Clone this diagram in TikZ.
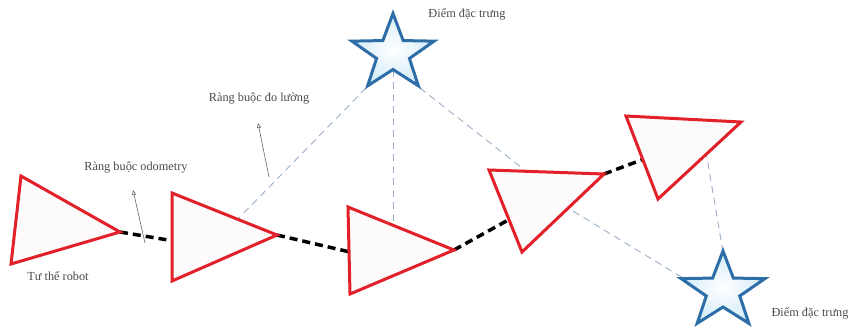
\documentclass[tikz,border=0pt]{standalone}
\usepackage{fontspec}
\setmainfont{Liberation Serif}
\usetikzlibrary{arrows.meta}
\definecolor{trired}{HTML}{E2202A}
\definecolor{trifill}{HTML}{FDFAFB}
\definecolor{starblue}{HTML}{2D6EA8}
\definecolor{starfill}{HTML}{D3ECF8}
\definecolor{measline}{HTML}{9DAEC6}
\definecolor{txt}{HTML}{4A4A4A}
\tikzset{
  pose/.style={draw=trired, fill=trifill, line width=3pt, line join=miter},
  landmark/.style={draw=starblue, line width=3pt, line join=miter, inner color=white, outer color=starfill},
  odo/.style={black, line width=3.5pt, dash pattern=on 8pt off 5pt},
  meas/.style={measline, line width=0.9pt, dash pattern=on 7pt off 5pt},
  note/.style={gray!80!black, line width=0.6pt, -{Triangle[open, length=5pt, width=4pt]}},
  lbl/.style={text=txt, font=\fontsize{12.3}{14}\selectfont, inner sep=0pt}
}
\newcommand{\starpath}{(-90:40) -- (-54:16) -- (-18:40) -- (18:16) -- (54:40) -- (90:16) -- (126:40) -- (162:16) -- (198:40) -- (234:16) -- cycle}
\begin{document}
\begin{tikzpicture}[x=1pt, y=-1pt]
\useasboundingbox (0,0) rectangle (853,333);
% triangle vertices
\coordinate (t1a) at (21,176); \coordinate (t1b) at (11,264); \coordinate (t1c) at (120,232);
\coordinate (t2a) at (172,193); \coordinate (t2b) at (172,281); \coordinate (t2c) at (277,235);
\coordinate (t3a) at (348,207); \coordinate (t3b) at (350,294); \coordinate (t3c) at (454,250);
\coordinate (t4a) at (489,170); \coordinate (t4b) at (522,252); \coordinate (t4c) at (604,174);
\coordinate (t5a) at (626,116); \coordinate (t5b) at (658,199); \coordinate (t5c) at (741,122);
% star centres
\coordinate (s1) at (393,53.5);
\coordinate (s2) at (723,291);
% connector ends
\coordinate (s1ll) at (366,88); \coordinate (s1b) at (393,70); \coordinate (s1lr) at (420,88);
\coordinate (s2l) at (683,278); \coordinate (s2t) at (723,252);
\coordinate (m2) at (235,222); \coordinate (m3) at (393,228);
\coordinate (m4a) at (531,175); \coordinate (m4b) at (563,205);
\coordinate (m5) at (706,152);
\coordinate (o2) at (174,241); \coordinate (o3) at (350,252);
\coordinate (o4) at (510,219); \coordinate (o5) at (644,159);
% measurement constraints
\draw[meas] (s1ll) -- (m2);
\draw[meas] (s1b) -- (m3);
\draw[meas] (s1lr) -- (m4a);
\draw[meas] (m4b) -- (s2l);
\draw[meas] (s2t) -- (m5);
% odometry constraints
\draw[odo] (t1c) -- (o2);
\draw[odo] (t2c) -- (o3);
\draw[odo] (t3c) -- (o4);
\draw[odo] (t4c) -- (o5);
% poses
\draw[pose] (t1a) -- (t1b) -- (t1c) -- cycle;
\draw[pose] (t2a) -- (t2b) -- (t2c) -- cycle;
\draw[pose] (t3a) -- (t3b) -- (t3c) -- cycle;
\draw[pose] (t4a) -- (t4b) -- (t4c) -- cycle;
\draw[pose] (t5a) -- (t5b) -- (t5c) -- cycle;
% landmarks
\shadedraw[landmark, shift={(s1)}, xscale=1.08] \starpath;
\shadedraw[landmark, shift={(s2)}, xscale=1.1] \starpath;
% labels
\node[lbl] (lodo) at (136,168) {Ràng buộc odometry};
\node[lbl] (lmeas) at (259,99) {Ràng buộc đo lường};
\node[lbl] (lpose) at (58,276) {Tư thế robot};
\node[lbl] (lf1) at (467,14) {Điểm đặc trưng};
\node[lbl] (lf2) at (810,313) {Điểm đặc trưng};
\coordinate (a1s) at (145,243); \coordinate (a1e) at (133,190);
\coordinate (a2s) at (269,177); \coordinate (a2e) at (258,123);
\draw[note] (a1s) -- (a1e);
\draw[note] (a2s) -- (a2e);
\end{tikzpicture}
\end{document}
